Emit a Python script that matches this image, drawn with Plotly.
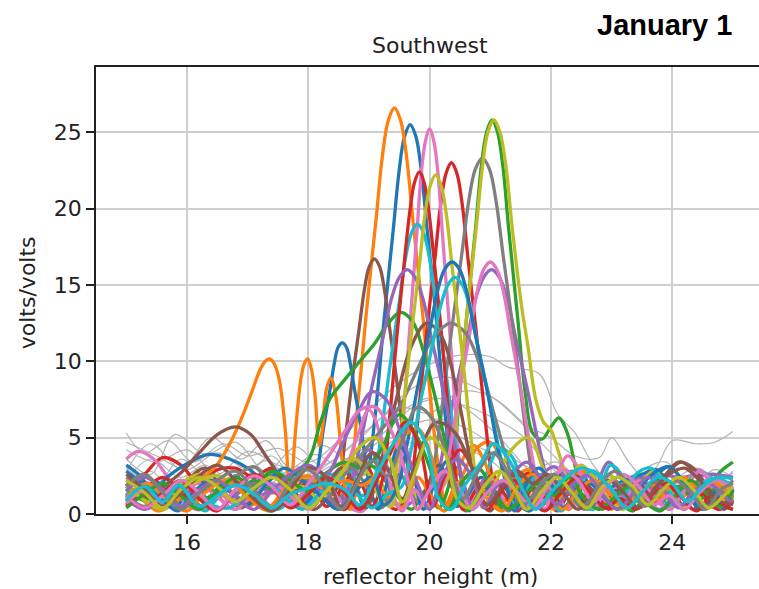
import plotly.graph_objects as go

# ---------------- data ----------------
x_ticks = [16, 18, 20, 22, 24]
y_ticks = [0, 5, 10, 15, 20, 25]
title_text = "Southwest"
date_text = "January 1"
x_label = "reflector height (m)"
y_label = "volts/volts"

tab10 = ['#1f77b4', '#ff7f0e', '#2ca02c', '#d62728', '#9467bd',
         '#8c564b', '#e377c2', '#7f7f7f', '#bcbd22', '#17becf']

# thin light-gray background tracks: (reflector height m, amplitude)
gray_a = [(15.0,5.3),(15.3,4.0),(15.7,4.8),(16.1,3.4),(16.6,4.6),(17.0,3.8),(17.5,4.3),(18.0,3.4),(18.5,4.8),(19.0,6.8),(19.5,8.6),(20.0,9.8),(20.5,10.4),(21.0,10.3),(21.3,9.6),(21.8,9.2),(22.1,6.6),(22.4,5.3),(22.7,3.2),(23.0,2.0),(23.4,2.6),(23.7,2.9),(24.0,4.8),(24.4,4.6),(24.7,4.7),(25.0,5.4)]
gray_b = [(15.0,3.6),(15.4,2.6),(15.8,5.2),(16.3,3.9),(16.8,4.7),(17.3,2.8),(17.8,4.4),(18.2,3.2),(18.7,4.4),(19.2,6.3),(19.7,8.2),(20.2,9.0),(20.7,8.4),(21.2,7.2),(21.6,5.8),(22.0,5.0),(22.4,3.8),(22.8,3.7),(23.0,5.0),(23.25,3.6),(23.5,2.4),(23.9,1.6),(24.3,2.6),(24.7,2.0),(25.0,2.8)]
gray_c = [(15.0,2.8),(15.4,4.6),(15.9,3.0),(16.4,5.0),(16.9,3.6),(17.3,4.8),(17.7,3.0),(18.1,3.9),(18.6,3.0),(19.0,4.6),(19.5,6.6),(20.0,7.6),(20.5,7.2),(21.0,6.4),(21.5,5.2),(21.9,3.5),(22.3,2.2),(22.7,2.9),(23.1,1.8),(23.5,2.9),(23.9,3.4),(24.3,1.9),(24.7,2.9),(25.0,2.4)]
gray_d = [(15.0,4.2),(15.5,3.4),(16.0,4.2),(16.5,2.6),(17.0,4.1),(17.5,3.2),(18.0,2.6),(18.5,3.8),(19.0,5.6),(19.5,7.0),(20.0,6.6),(20.5,8.0),(21.0,7.7),(21.5,6.0),(22.0,4.0),(22.4,2.5),(22.8,1.8),(23.2,2.6),(23.6,1.5),(24.0,2.2),(24.4,3.0),(24.8,2.2),(25.0,2.7)]
gray_e = [(15.0,2.2),(15.4,3.6),(15.9,2.4),(16.3,3.2),(16.8,2.0),(17.3,3.5),(17.7,2.5),(18.2,4.5),(18.7,3.5),(19.2,4.2),(19.7,5.8),(20.2,6.2),(20.7,5.4),(21.2,4.1),(21.7,3.0),(22.1,3.4),(22.5,2.0),(22.9,1.2),(23.4,2.0),(23.8,1.3),(24.2,1.8),(24.6,1.2),(25.0,1.8)]
gray_f = [(15.0,3.0),(15.5,2.0),(15.9,3.6),(16.4,2.2),(16.8,3.0),(17.3,1.9),(17.8,3.1),(18.3,2.3),(18.8,3.6),(19.3,5.0),(19.8,4.6),(20.3,5.3),(20.8,4.4),(21.3,3.4),(21.7,2.2),(22.2,2.8),(22.6,1.5),(23.0,2.4),(23.4,1.0),(23.8,1.6),(24.3,2.5),(24.7,1.5),(25.0,2.0)]
gray_g = [(15.0,1.6),(15.4,2.8),(15.8,1.5),(16.3,2.6),(16.7,1.2),(17.2,2.4),(17.6,1.6),(18.0,2.9),(18.5,2.0),(19.0,3.0),(19.5,3.9),(20.0,4.9),(20.5,4.4),(21.0,3.5),(21.4,2.2),(21.8,1.4),(22.2,2.3),(22.6,1.0),(23.0,1.6),(23.4,2.1),(23.8,0.9),(24.2,1.4),(24.6,2.1),(25.0,1.3)]
gray_h = [(15.0,4.7),(15.5,3.8),(16.0,2.9),(16.5,4.0),(17.0,2.9),(17.4,3.8),(17.8,2.2),(18.3,3.0),(18.8,4.0),(19.3,5.5),(19.8,7.2),(20.3,7.5),(20.8,6.3),(21.2,4.8),(21.6,3.0),(22.0,1.8),(22.4,2.8),(22.8,2.3),(23.2,1.4),(23.6,2.4),(24.0,1.8),(24.4,2.4),(24.8,1.6),(25.0,2.1)]

# coloured tracks, in matplotlib colour-cycle order
blue_a = [(15.0,2.0),(15.25,1.1),(15.5,2.1),(15.8,0.5),(16.1,1.7),(16.4,0.9),(16.8,2.5),(17.15,0.7),(17.5,1.8),(17.85,0.4),(18.2,1.9),(18.5,1.2),(18.75,0.3),(18.93,0.8),(18.99,2.55),(19.12,7.1),(19.25,12.75),(19.4,18.6),(19.495,22.4),(19.585,24.7),(19.68,25.5),(19.775,24.7),(19.865,22.4),(19.96,18.6),(20.11,12.75),(20.24,7.1),(20.37,2.55),(20.45,0.5),(20.6,1.0),(20.85,2.4),(21.1,1.0),(21.35,2.8),(21.6,0.5),(21.9,2.0),(22.2,1.1),(22.5,2.6),(22.8,0.7),(23.1,1.6),(23.4,0.4),(23.7,2.3),(23.95,3.1),(24.25,1.6),(24.5,0.3),(24.75,1.8),(25.0,1.1)]
orange_a = [(15.0,0.8),(15.3,1.6),(15.6,0.5),(15.95,1.3),(16.3,0.4),(16.6,1.2),(17.0,0.5),(17.4,1.4),(17.8,0.6),(18.1,1.6),(18.4,0.6),(18.68,2.7),(18.82,7.4),(18.96,13.3),(19.12,19.4),(19.22,23.4),(19.32,25.8),(19.42,26.6),(19.52,25.8),(19.62,23.4),(19.72,19.4),(19.88,13.3),(20.02,7.4),(20.16,2.7),(20.3,0.3),(20.55,2.6),(20.8,4.4),(21.0,4.7),(21.25,3.0),(21.5,0.4),(21.8,2.4),(22.05,1.2),(22.3,0.3),(22.6,2.8),(22.9,1.2),(23.1,0.5),(23.3,2.4),(23.55,1.3),(23.8,1.9),(24.1,1.0),(24.4,1.7),(24.7,0.8),(25.0,0.9)]
green_a = [(15.0,1.2),(15.3,0.4),(15.6,1.4),(15.9,2.0),(16.3,1.0),(16.7,2.3),(17.0,1.2),(17.4,2.8),(17.8,1.5),(18.2,2.3),(18.6,1.0),(19.0,3.2),(19.4,1.5),(19.7,0.3),(19.95,1.6),(20.15,0.4),(20.36,2.6),(20.48,7.2),(20.61,12.9),(20.76,18.8),(20.85,22.7),(20.94,25.0),(21.03,25.8),(21.12,25.0),(21.21,22.7),(21.3,18.8),(21.45,12.9),(21.58,7.8),(21.7,5.3),(21.85,4.9),(22.0,5.7),(22.13,6.3),(22.27,5.3),(22.45,2.2),(22.6,0.3),(22.85,1.8),(23.1,0.9),(23.35,0.2),(23.6,1.6),(23.85,2.4),(24.1,1.4),(24.35,0.3),(24.6,1.8),(24.8,2.8),(25.0,3.4)]
red_a = [(15.0,1.5),(15.3,2.6),(15.6,3.7),(15.9,3.2),(16.2,2.0),(16.5,2.9),(16.8,3.0),(17.1,2.4),(17.4,3.0),(17.7,1.4),(18.0,2.4),(18.3,0.5),(18.6,2.0),(18.9,3.5),(19.2,1.2),(19.45,0.3),(19.69,2.3),(19.81,6.4),(19.94,11.5),(20.09,16.8),(20.18,20.2),(20.27,22.3),(20.36,23.0),(20.45,22.3),(20.54,20.2),(20.63,16.8),(20.78,11.5),(20.91,6.4),(21.03,2.3),(21.12,0.3),(21.4,1.8),(21.65,2.7),(21.9,1.5),(22.1,0.2),(22.35,1.6),(22.6,0.8),(22.85,1.9),(23.1,0.4),(23.35,1.5),(23.6,0.6),(23.9,1.4),(24.2,0.5),(24.45,1.3),(24.7,0.4),(25.0,1.0)]
purple_a = [(15.0,0.6),(15.3,1.4),(15.6,0.4),(15.9,1.1),(16.3,0.5),(16.6,1.6),(17.0,0.8),(17.4,1.5),(17.8,0.5),(18.1,1.5),(18.4,0.6),(18.7,2.0),(19.0,4.2),(19.25,2.5),(19.5,0.5),(19.8,1.0),(20.06,1.8),(20.24,4.5),(20.42,8.0),(20.63,11.7),(20.76,14.1),(20.89,15.5),(21.02,16.0),(21.15,15.5),(21.28,14.1),(21.41,11.7),(21.62,8.0),(21.8,4.5),(21.98,1.6),(22.1,0.4),(22.35,1.7),(22.6,0.5),(22.95,3.4),(23.2,2.2),(23.5,2.4),(23.8,2.6),(24.1,2.4),(24.4,2.5),(24.7,2.6),(25.0,2.4)]
brown_a = [(15.0,2.2),(15.3,1.5),(15.6,0.9),(15.95,2.0),(16.3,3.0),(16.6,1.5),(16.9,0.4),(17.2,1.6),(17.5,2.5),(17.8,1.0),(18.1,0.3),(18.3,1.0),(18.48,1.7),(18.6,4.7),(18.71,8.35),(18.84,12.2),(18.925,14.7),(19.005,16.2),(19.09,16.7),(19.175,16.2),(19.255,14.7),(19.34,12.2),(19.47,8.35),(19.58,4.7),(19.7,1.7),(19.8,0.3),(19.98,2.0),(20.15,3.2),(20.4,1.5),(20.6,0.2),(20.85,1.8),(21.1,1.0),(21.35,0.3),(21.6,1.6),(21.85,2.2),(22.1,1.2),(22.4,2.4),(22.7,1.3),(23.0,0.4),(23.3,1.8),(23.6,1.0),(23.9,2.6),(24.15,3.4),(24.4,2.6),(24.7,1.2),(24.85,0.3),(25.0,0.9)]
pink_a = [(15.0,3.6),(15.2,4.1),(15.45,3.6),(15.75,2.0),(16.0,0.6),(16.25,0.3),(16.5,1.4),(16.8,0.6),(17.1,1.5),(17.4,0.5),(17.7,1.0),(18.0,0.4),(18.3,1.8),(18.6,0.6),(18.9,0.2),(19.12,2.2),(19.3,0.6),(19.49,2.5),(19.58,7.1),(19.68,12.6),(19.79,18.4),(19.86,22.2),(19.93,24.4),(20.0,25.2),(20.07,24.4),(20.14,22.2),(20.21,18.4),(20.32,12.6),(20.42,7.1),(20.51,2.5),(20.6,0.3),(20.85,1.8),(21.05,2.3),(21.3,0.4),(21.55,1.6),(21.8,2.6),(22.05,1.3),(22.3,0.4),(22.55,1.2),(22.8,0.5),(23.05,1.8),(23.3,0.6),(23.6,1.4),(23.9,0.4),(24.2,2.0),(24.45,2.9),(24.7,1.6),(25.0,1.2)]
gray_thick_a = [(15.0,1.3),(15.3,0.5),(15.6,1.8),(15.9,1.0),(16.2,2.4),(16.5,1.2),(16.8,0.3),(17.1,1.9),(17.4,2.6),(17.7,1.4),(18.0,2.2),(18.3,1.0),(18.6,3.2),(18.9,2.2),(19.2,0.4),(19.5,2.6),(19.75,1.0),(19.96,0.5),(20.04,2.3),(20.19,6.5),(20.35,11.65),(20.53,17.0),(20.645,20.5),(20.755,22.6),(20.87,23.3),(20.985,22.6),(21.095,20.5),(21.21,17.0),(21.39,11.65),(21.55,6.5),(21.7,2.3),(21.8,0.4),(22.1,1.8),(22.35,2.8),(22.6,1.6),(22.85,0.3),(23.1,1.5),(23.4,2.5),(23.7,1.4),(23.95,0.3),(24.2,1.5),(24.5,2.2),(24.75,1.0),(25.0,1.7)]
olive_a = [(15.0,0.9),(15.3,1.9),(15.6,0.8),(15.9,2.0),(16.2,2.6),(16.5,2.0),(16.8,2.4),(17.1,1.0),(17.4,0.3),(17.7,1.8),(18.0,2.4),(18.3,1.2),(18.6,0.3),(18.9,2.6),(19.2,2.0),(19.45,0.6),(19.7,1.5),(19.95,0.4),(20.15,1.4),(20.33,2.6),(20.47,7.2),(20.61,12.9),(20.77,18.8),(20.87,22.7),(20.96,25.0),(21.06,25.8),(21.16,25.0),(21.26,22.7),(21.36,18.8),(21.52,13.5),(21.62,11.0),(21.75,7.5),(21.88,6.0),(22.0,5.5),(22.13,4.0),(22.3,1.8),(22.5,0.4),(22.7,1.5),(22.95,2.6),(23.2,1.4),(23.45,0.4),(23.7,1.8),(23.95,1.0),(24.2,0.3),(24.45,1.5),(24.7,1.0),(25.0,1.6)]
cyan_a = [(15.0,1.4),(15.25,0.4),(15.5,1.2),(15.8,1.9),(16.1,0.9),(16.3,0.2),(16.6,1.5),(16.9,1.9),(17.2,1.0),(17.5,0.3),(17.8,1.4),(18.1,2.3),(18.4,2.6),(18.68,2.9),(18.88,1.2),(19.06,1.9),(19.2,5.3),(19.34,9.5),(19.5,13.9),(19.6,16.7),(19.7,18.4),(19.8,19.0),(19.9,18.4),(20.0,16.7),(20.1,13.9),(20.26,9.5),(20.4,5.3),(20.54,1.9),(20.66,0.3),(20.9,2.3),(21.15,4.3),(21.35,3.8),(21.55,1.8),(21.75,0.4),(21.95,1.6),(22.2,2.2),(22.45,1.0),(22.7,0.3),(22.98,3.2),(23.2,2.4),(23.45,0.8),(23.7,1.6),(23.95,0.6),(24.2,1.9),(24.45,2.8),(24.7,2.2),(25.0,1.6)]
blue_b = [(15.0,3.2),(15.2,2.6),(15.44,1.6),(15.7,2.5),(16.0,3.3),(16.36,3.9),(16.7,3.6),(17.0,3.0),(17.3,2.0),(17.6,1.3),(17.85,0.4),(18.06,1.1),(18.16,3.1),(18.25,5.6),(18.36,8.2),(18.43,9.9),(18.49,10.9),(18.56,11.2),(18.63,10.9),(18.69,9.9),(18.76,8.2),(18.87,5.6),(18.96,3.1),(19.06,1.1),(19.15,0.3),(19.3,2.0),(19.5,4.5),(19.7,3.0),(19.9,0.3),(20.1,2.2),(20.3,3.5),(20.5,2.6),(20.7,0.4),(20.9,1.3),(21.15,2.0),(21.4,0.9),(21.65,0.2),(21.9,1.8),(22.15,2.6),(22.4,1.6),(22.65,0.5),(22.9,1.5),(23.2,2.2),(23.5,2.6),(23.75,2.9),(24.0,1.2),(24.2,0.3),(24.45,1.4),(24.7,0.6),(25.0,1.0)]
orange_b = [(15.0,1.9),(15.25,1.0),(15.52,0.2),(15.75,0.6),(15.98,1.4),(16.2,2.2),(16.47,3.1),(16.65,4.2),(16.85,5.8),(17.05,7.8),(17.2,9.4),(17.29,10.0),(17.36,10.15),(17.43,9.9),(17.52,8.8),(17.62,5.5),(17.7,1.0),(17.78,5.0),(17.88,8.9),(17.94,9.9),(17.99,10.15),(18.05,9.5),(18.11,7.8),(18.18,4.5),(18.23,5.5),(18.3,8.2),(18.37,8.9),(18.45,7.8),(18.55,3.8),(18.68,0.3),(18.85,1.8),(19.05,2.0),(19.3,1.2),(19.55,0.4),(19.8,2.4),(20.05,1.0),(20.25,0.2),(20.5,3.2),(20.72,4.5),(20.95,3.0),(21.15,0.3),(21.4,2.2),(21.62,2.9),(21.85,1.6),(22.05,0.3),(22.3,2.0),(22.55,2.8),(22.8,1.8),(23.0,0.3),(23.25,2.0),(23.5,1.6),(23.77,1.9),(24.0,1.0),(24.25,2.0),(24.5,1.4),(24.75,1.1),(25.0,0.9)]
green_b = [(15.0,1.6),(15.3,0.9),(15.6,1.7),(15.9,0.5),(16.2,1.2),(16.5,2.0),(16.8,1.3),(17.1,2.2),(17.4,1.6),(17.7,2.4),(18.0,3.5),(18.2,6.0),(18.35,7.5),(18.6,8.8),(18.85,10.0),(19.1,11.2),(19.3,12.4),(19.52,13.2),(19.72,12.6),(19.9,10.6),(20.1,7.5),(20.3,4.0),(20.5,1.2),(20.65,0.2),(20.85,1.5),(21.05,1.0),(21.25,0.3),(21.45,1.6),(21.7,2.4),(21.95,1.2),(22.2,0.4),(22.45,1.4),(22.7,0.8),(22.95,1.7),(23.2,0.5),(23.5,1.5),(23.8,0.8),(24.1,1.8),(24.4,0.9),(24.7,1.6),(25.0,1.0)]
red_b = [(15.0,0.5),(15.3,1.6),(15.6,2.4),(15.9,1.5),(16.2,0.4),(16.5,1.4),(16.8,2.1),(17.1,1.0),(17.4,0.2),(17.7,1.2),(18.0,2.0),(18.3,1.0),(18.6,0.3),(18.85,2.0),(19.05,0.5),(19.22,2.2),(19.34,6.3),(19.45,11.2),(19.58,16.4),(19.67,19.7),(19.75,21.7),(19.83,22.4),(19.91,21.7),(19.99,19.7),(20.08,16.4),(20.21,11.2),(20.32,6.3),(20.44,2.2),(20.55,0.3),(20.8,1.8),(21.05,2.5),(21.25,1.2),(21.45,0.2),(21.7,1.7),(21.95,1.0),(22.2,1.9),(22.45,0.7),(22.7,1.5),(22.95,0.3),(23.2,1.6),(23.45,2.1),(23.7,0.8),(23.95,1.7),(24.2,0.5),(24.5,1.3),(24.75,0.3),(25.0,0.8)]
purple_b = [(15.0,1.0),(15.3,0.3),(15.6,1.0),(15.9,1.7),(16.2,1.0),(16.5,0.3),(16.8,1.3),(17.1,2.0),(17.4,1.4),(17.7,2.3),(18.0,2.0),(18.3,1.2),(18.5,0.4),(18.67,1.6),(18.85,4.5),(19.03,8.0),(19.24,11.7),(19.37,14.1),(19.5,15.5),(19.63,16.0),(19.76,15.5),(19.89,14.1),(20.02,11.7),(20.23,8.0),(20.41,4.5),(20.59,1.6),(20.72,0.3),(20.92,2.4),(21.1,1.4),(21.3,0.2),(21.55,1.6),(21.8,2.4),(22.05,3.1),(22.3,2.0),(22.55,0.5),(22.8,1.4),(23.05,0.8),(23.3,1.9),(23.55,1.0),(23.8,0.3),(24.05,1.4),(24.3,2.1),(24.6,1.3),(24.8,0.4),(25.0,1.3)]
brown_b = [(15.0,1.8),(15.3,1.1),(15.6,1.8),(15.9,2.7),(16.2,4.0),(16.5,5.2),(16.8,5.7),(17.05,5.2),(17.3,3.8),(17.55,2.4),(17.8,1.3),(18.05,0.4),(18.3,1.8),(18.55,3.0),(18.75,2.0),(18.95,0.4),(19.2,3.5),(19.45,7.5),(19.7,11.0),(19.95,12.5),(20.2,11.6),(20.45,8.0),(20.65,4.0),(20.85,0.8),(21.0,0.2),(21.2,1.6),(21.45,2.6),(21.7,1.6),(21.9,0.3),(22.15,1.5),(22.4,2.5),(22.65,1.7),(22.9,0.6),(23.2,1.9),(23.5,1.0),(23.8,2.1),(24.1,3.4),(24.35,3.0),(24.6,1.6),(24.8,0.6),(25.0,0.3)]
pink_b = [(15.0,0.7),(15.3,1.5),(15.6,0.6),(15.9,1.4),(16.2,2.0),(16.5,1.1),(16.8,0.3),(17.1,1.3),(17.4,2.0),(17.7,1.2),(18.0,0.3),(18.3,1.6),(18.55,2.4),(18.8,5.0),(19.0,6.8),(19.2,5.0),(19.4,1.2),(19.55,0.2),(19.75,1.6),(19.95,0.6),(20.2,1.65),(20.35,4.6),(20.5,8.25),(20.67,12.0),(20.78,14.5),(20.89,16.0),(21.0,16.5),(21.11,16.0),(21.22,14.5),(21.33,12.0),(21.5,8.25),(21.65,4.6),(21.8,1.65),(21.9,0.3),(22.08,2.4),(22.28,3.8),(22.5,2.6),(22.7,0.4),(22.95,1.6),(23.2,1.0),(23.45,2.2),(23.7,1.2),(23.95,0.3),(24.2,1.5),(24.45,2.8),(24.7,2.0),(25.0,1.3)]
gray_thick_b = [(15.0,2.4),(15.3,1.5),(15.6,0.4),(15.9,1.6),(16.2,2.4),(16.5,1.4),(16.8,2.4),(17.1,3.1),(17.4,1.8),(17.7,0.5),(18.0,1.5),(18.3,2.2),(18.6,2.6),(18.9,4.0),(19.2,5.5),(19.5,7.0),(19.8,9.5),(20.05,11.5),(20.35,12.5),(20.6,11.8),(20.85,9.5),(21.1,6.0),(21.35,2.5),(21.55,0.4),(21.8,1.6),(22.05,2.6),(22.3,1.4),(22.55,0.3),(22.8,1.5),(23.05,2.2),(23.3,1.0),(23.55,2.0),(23.8,1.2),(24.1,2.2),(24.35,1.4),(24.6,0.5),(24.8,1.4),(25.0,2.2)]
olive_b = [(15.0,1.8),(15.3,0.9),(15.6,0.3),(15.9,1.4),(16.2,2.2),(16.5,2.5),(16.8,1.8),(17.1,0.8),(17.35,0.2),(17.6,1.3),(17.9,1.8),(18.2,1.0),(18.5,2.4),(18.75,3.6),(19.0,2.6),(19.2,0.9),(19.37,0.5),(19.43,2.2),(19.55,6.2),(19.68,11.1),(19.83,16.2),(19.92,19.5),(20.01,21.5),(20.1,22.2),(20.19,21.5),(20.28,19.5),(20.37,16.2),(20.52,11.1),(20.65,6.2),(20.77,2.2),(20.88,0.4),(21.1,2.2),(21.35,4.2),(21.64,5.0),(21.85,3.2),(22.05,0.8),(22.25,2.0),(22.5,3.2),(22.7,2.4),(22.95,1.0),(23.2,0.3),(23.45,1.8),(23.7,2.8),(23.95,1.6),(24.2,0.4),(24.45,1.6),(24.7,2.2),(25.0,1.4)]
cyan_b = [(15.0,1.2),(15.3,1.9),(15.6,1.1),(15.85,0.3),(16.1,1.3),(16.4,0.6),(16.7,0.4),(17.0,1.4),(17.3,2.1),(17.6,1.2),(17.9,0.3),(18.2,1.4),(18.5,2.4),(18.8,1.3),(19.05,0.4),(19.3,1.3),(19.54,1.8),(19.7,4.3),(19.87,7.75),(20.06,11.3),(20.18,13.6),(20.3,15.0),(20.42,15.5),(20.54,15.0),(20.66,13.6),(20.78,11.3),(20.97,7.75),(21.14,4.3),(21.3,1.55),(21.42,0.3),(21.6,1.6),(21.78,2.6),(21.95,1.6),(22.15,0.2),(22.4,1.2),(22.65,2.8),(22.9,2.2),(23.15,0.9),(23.4,2.6),(23.65,3.0),(23.9,1.8),(24.15,0.6),(24.4,1.8),(24.7,2.3),(25.0,1.9)]
blue_c = [(15.0,2.8),(15.3,1.9),(15.6,0.9),(15.85,0.2),(16.1,1.4),(16.4,2.2),(16.7,1.5),(17.0,0.6),(17.3,1.9),(17.6,3.0),(17.9,2.2),(18.2,1.2),(18.5,0.3),(18.8,1.6),(19.05,2.4),(19.25,0.6),(19.46,1.65),(19.63,4.6),(19.8,8.25),(20.0,12.0),(20.125,14.5),(20.245,16.0),(20.37,16.5),(20.495,16.0),(20.615,14.5),(20.74,12.0),(20.94,8.25),(21.11,4.6),(21.28,1.65),(21.4,0.2),(21.6,2.0),(21.8,3.0),(22.0,2.0),(22.2,0.4),(22.4,1.4),(22.6,2.1),(22.85,1.2),(23.1,0.3),(23.4,1.5),(23.7,2.7),(23.95,3.1),(24.2,2.0),(24.45,0.3),(24.7,1.4),(24.85,0.4),(25.0,1.6)]
orange_c = [(15.0,1.1),(15.35,2.0),(15.7,0.8),(16.0,0.2),(16.3,1.4),(16.65,2.2),(17.0,1.1),(17.3,0.3),(17.65,1.8),(18.0,2.5),(18.3,1.6),(18.6,2.2),(18.9,1.9),(19.2,3.0),(19.5,4.8),(19.8,5.6),(20.05,3.5),(20.25,0.6),(20.45,2.0),(20.7,2.4),(20.95,1.0),(21.2,0.2),(21.45,1.8),(21.7,2.6),(21.95,1.6),(22.2,0.3),(22.45,1.6),(22.7,2.2),(22.95,1.4),(23.2,0.5),(23.45,1.4),(23.7,0.6),(23.95,1.8),(24.2,2.4),(24.45,1.6),(24.7,2.0),(25.0,1.1)]
green_c = [(15.0,0.4),(15.3,1.3),(15.6,2.0),(15.9,1.2),(16.2,0.3),(16.5,1.5),(16.8,2.4),(17.1,1.8),(17.4,2.8),(17.7,2.2),(18.0,1.5),(18.3,2.7),(18.6,3.4),(18.9,3.0),(19.2,4.2),(19.5,6.5),(19.8,5.0),(20.1,2.0),(20.3,0.3),(20.55,2.2),(20.8,3.0),(21.05,1.5),(21.3,0.3),(21.55,1.2),(21.8,2.0),(22.05,1.2),(22.3,2.4),(22.55,1.0),(22.8,0.3),(23.05,1.1),(23.3,1.8),(23.55,0.8),(23.8,0.2),(24.05,1.2),(24.3,2.2),(24.55,1.4),(24.8,0.5),(25.0,1.5)]
red_c = [(15.0,1.2),(15.3,0.4),(15.6,1.4),(15.9,2.2),(16.2,1.0),(16.5,0.2),(16.8,1.6),(17.1,2.6),(17.4,1.8),(17.7,0.4),(18.0,1.3),(18.3,2.4),(18.6,1.4),(18.85,0.3),(19.1,2.0),(19.35,4.0),(19.6,6.0),(19.85,4.2),(20.05,0.5),(20.25,2.5),(20.5,4.2),(20.75,2.6),(20.95,0.3),(21.15,1.4),(21.4,2.2),(21.65,1.0),(21.9,0.2),(22.15,1.3),(22.4,2.3),(22.65,1.4),(22.9,0.4),(23.15,1.0),(23.4,0.3),(23.65,1.2),(23.9,2.0),(24.15,1.1),(24.4,0.2),(24.65,1.2),(24.85,0.6),(25.0,0.3)]
purple_c = [(15.0,1.5),(15.3,2.4),(15.6,1.6),(15.9,0.5),(16.2,1.6),(16.5,2.2),(16.8,1.2),(17.1,0.3),(17.4,1.5),(17.7,2.6),(18.0,3.2),(18.3,2.6),(18.55,4.5),(18.8,6.5),(19.05,8.0),(19.3,7.4),(19.55,5.0),(19.8,2.0),(20.0,0.3),(20.2,2.4),(20.45,3.6),(20.7,2.4),(20.9,0.4),(21.1,1.8),(21.35,2.6),(21.6,3.4),(21.85,2.2),(22.1,0.6),(22.35,1.9),(22.6,2.5),(22.85,1.3),(23.1,0.3),(23.35,1.3),(23.6,2.4),(23.85,1.6),(24.1,0.4),(24.35,1.5),(24.6,2.0),(24.85,1.2),(25.0,0.6)]
brown_c = [(15.0,2.6),(15.3,1.6),(15.6,0.5),(15.9,1.4),(16.2,2.5),(16.5,3.2),(16.8,2.2),(17.1,1.0),(17.4,0.2),(17.7,1.6),(18.0,3.0),(18.3,2.4),(18.55,0.4),(18.8,2.2),(19.05,4.0),(19.3,3.0),(19.55,1.0),(19.8,3.6),(20.1,6.0),(20.4,5.4),(20.7,3.0),(20.95,0.6),(21.2,1.8),(21.45,2.8),(21.7,2.0),(21.95,2.6),(22.2,1.4),(22.45,0.3),(22.7,1.4),(22.95,2.2),(23.2,1.4),(23.45,0.4),(23.7,1.6),(23.95,2.6),(24.2,3.0),(24.45,2.2),(24.7,1.0),(25.0,0.6)]
pink_c = [(15.0,1.2),(15.3,0.4),(15.6,1.2),(15.9,2.2),(16.2,1.4),(16.5,0.3),(16.8,1.6),(17.1,2.5),(17.4,1.8),(17.7,0.6),(18.0,2.0),(18.3,3.6),(18.6,5.4),(18.85,6.8),(19.1,7.0),(19.35,5.6),(19.6,2.8),(19.8,0.3),(20.0,1.6),(20.25,2.8),(20.5,1.6),(20.7,0.3),(20.95,1.4),(21.2,2.2),(21.45,1.4),(21.7,0.4),(21.95,1.8),(22.2,2.9),(22.45,2.2),(22.7,0.8),(22.95,2.0),(23.2,2.6),(23.45,1.8),(23.7,0.6),(23.95,1.2),(24.2,0.3),(24.45,1.4),(24.7,2.2),(25.0,1.7)]
gray_thick_c = [(15.0,1.8),(15.3,2.6),(15.6,1.4),(15.9,0.3),(16.2,1.4),(16.5,2.2),(16.8,2.8),(17.1,1.6),(17.4,0.4),(17.7,2.0),(18.0,2.9),(18.3,1.5),(18.55,0.3),(18.8,2.0),(19.05,3.5),(19.3,2.5),(19.55,4.8),(19.8,7.0),(20.05,6.2),(20.3,3.6),(20.55,1.0),(20.8,2.8),(21.05,4.0),(21.3,2.6),(21.55,0.6),(21.8,1.8),(22.05,2.6),(22.3,1.6),(22.55,0.6),(22.8,1.9),(23.05,2.8),(23.3,1.8),(23.55,0.5),(23.8,1.4),(24.05,2.2),(24.3,1.4),(24.55,0.3),(24.8,1.6),(25.0,2.0)]
olive_c = [(15.0,2.2),(15.3,1.4),(15.6,0.4),(15.9,1.6),(16.2,2.4),(16.5,1.8),(16.8,0.8),(17.1,1.7),(17.4,2.4),(17.7,1.6),(18.0,0.4),(18.3,1.5),(18.6,3.0),(18.85,4.4),(19.1,5.0),(19.35,3.5),(19.55,0.8),(19.75,2.6),(20.0,5.0),(20.25,4.0),(20.45,1.0),(20.65,0.4),(20.9,1.8),(21.15,2.8),(21.4,1.6),(21.6,0.3),(21.85,1.5),(22.1,2.4),(22.35,1.4),(22.6,0.4),(22.85,1.8),(23.1,2.4),(23.35,1.8),(23.6,0.6),(23.85,1.6),(24.1,2.4),(24.35,1.6),(24.6,0.4),(24.85,1.2),(25.0,1.8)]
cyan_c = [(15.0,0.9),(15.3,1.8),(15.6,0.8),(15.86,1.9),(16.2,0.5),(16.5,1.2),(16.8,1.9),(17.1,1.3),(17.4,0.4),(17.7,1.3),(18.0,1.7),(18.3,2.0),(18.6,1.6),(18.85,0.6),(19.1,2.4),(19.4,4.6),(19.7,6.0),(19.95,4.5),(20.15,1.0),(20.35,0.3),(20.6,2.0),(20.85,3.4),(21.05,4.6),(21.3,3.6),(21.55,1.5),(21.75,0.3),(22.0,1.4),(22.25,2.4),(22.5,3.0),(22.75,2.6),(23.0,1.6),(23.25,0.4),(23.5,1.4),(23.75,2.4),(24.0,2.0),(24.25,0.8),(24.5,1.8),(24.75,2.4),(25.0,2.3)]

gray_tracks = [gray_a, gray_b, gray_c, gray_d, gray_e, gray_f, gray_g, gray_h]
color_tracks = [blue_a, orange_a, green_a, red_a, purple_a, brown_a, pink_a, gray_thick_a, olive_a, cyan_a,
                blue_b, orange_b, green_b, red_b, purple_b, brown_b, pink_b, gray_thick_b, olive_b, cyan_b,
                blue_c, orange_c, green_c, red_c, purple_c, brown_c, pink_c, gray_thick_c, olive_c, cyan_c]

# ---------------- figure ----------------
fig = go.Figure()
for tr in gray_tracks:
    fig.add_trace(go.Scatter(x=[p[0] for p in tr], y=[p[1] for p in tr], mode='lines',
                             line=dict(color='#b4b4b4', width=1.2, shape='spline', smoothing=1.0),
                             hoverinfo='skip'))
for i, tr in enumerate(color_tracks):
    fig.add_trace(go.Scatter(x=[p[0] for p in tr], y=[p[1] for p in tr], mode='lines',
                             line=dict(color=tab10[i % 10], width=3.3, shape='spline', smoothing=1.0),
                             hoverinfo='skip'))

axis_common = dict(showgrid=True, gridcolor='#cfcfcf', gridwidth=1.6, zeroline=False,
                   showline=True, linecolor='#222222', linewidth=1.6,
                   ticks='outside', ticklen=8, tickwidth=1.6, tickcolor='#222222',
                   tickfont=dict(family='DejaVu Sans', size=22, color='#222222'))

fig.update_layout(
    width=759, height=589,
    margin=dict(l=96, r=0, t=67, b=75, pad=0),
    paper_bgcolor='white', plot_bgcolor='white',
    showlegend=False,
    font=dict(family='DejaVu Sans', size=22, color='#222222'),
    xaxis=dict(range=[14.5, 25.43], tickvals=x_ticks, mirror=True, **axis_common),
    yaxis=dict(range=[0, 29.27], tickvals=y_ticks, mirror=False, **axis_common),
    annotations=[
        dict(text=title_text, x=0.504, y=1.047, xref='paper', yref='paper', showarrow=False,
             xanchor='center', yanchor='middle', font=dict(family='DejaVu Sans', size=22, color='#222222')),
        dict(text='<b>' + date_text + '</b>', x=0.857, y=1.094, xref='paper', yref='paper', showarrow=False,
             xanchor='center', yanchor='middle', font=dict(family='Liberation Sans', size=29, color='#000000')),
        dict(text=x_label, x=0.504, y=-0.139, xref='paper', yref='paper', showarrow=False,
             xanchor='center', yanchor='middle', font=dict(family='DejaVu Sans', size=22, color='#222222')),
        dict(text=y_label, x=-0.104, y=0.494, xref='paper', yref='paper', showarrow=False, textangle=-90,
             xanchor='center', yanchor='middle', font=dict(family='DejaVu Sans', size=22, color='#222222')),
    ],
)

fig.write_html("out.html")
